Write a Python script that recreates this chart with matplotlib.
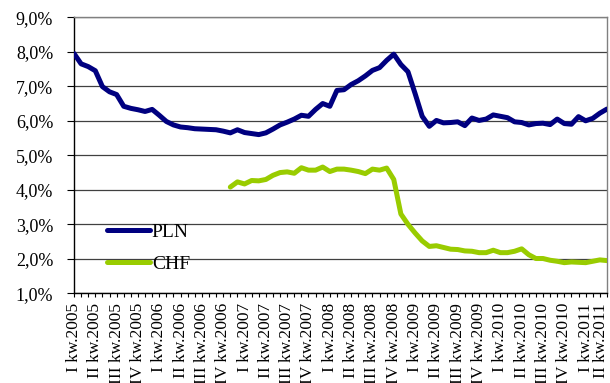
import numpy as np
import matplotlib
matplotlib.use('Agg')
import matplotlib.pyplot as plt
import matplotlib.transforms as mtransforms
from matplotlib.ticker import FuncFormatter

plt.rcParams['font.family'] = ['Liberation Serif', 'DejaVu Serif']

# monthly series, Jan 2005 - Apr 2011 (percent)
pln = [7.95, 7.65, 7.57, 7.45, 6.99, 6.84, 6.76, 6.42, 6.36, 6.32, 6.27, 6.33,
       6.16, 5.98, 5.88, 5.82, 5.80, 5.77, 5.76, 5.75, 5.74, 5.70, 5.65, 5.74,
       5.66, 5.63, 5.60, 5.65, 5.76, 5.88, 5.96, 6.05, 6.16, 6.13, 6.33, 6.50,
       6.42, 6.88, 6.90, 7.05, 7.16, 7.30, 7.46, 7.54, 7.75, 7.93, 7.63, 7.42,
       6.79, 6.13, 5.84, 6.01, 5.94, 5.95, 5.97, 5.86, 6.08, 6.01, 6.05, 6.17,
       6.13, 6.09, 5.97, 5.95, 5.88, 5.92, 5.93, 5.89, 6.05, 5.92, 5.90, 6.12,
       6.00, 6.07, 6.22, 6.34]
chf = [np.nan] * 22 + [
       4.08, 4.23, 4.17, 4.27, 4.26, 4.30, 4.42, 4.50, 4.52, 4.48, 4.64, 4.57,
       4.57, 4.66, 4.53, 4.60, 4.60, 4.57, 4.53, 4.47, 4.60, 4.57, 4.63, 4.30,
       3.30, 3.00, 2.75, 2.52, 2.36, 2.38, 2.33, 2.28, 2.27, 2.23, 2.22, 2.18,
       2.18, 2.25, 2.18, 2.18, 2.22, 2.29, 2.12, 2.01, 2.01, 1.96, 1.93, 1.89,
       1.91, 1.90, 1.89, 1.93, 1.97, 1.95]

years = range(2005, 2012)
quarters = ['I', 'II', 'III', 'IV']
q_labels = [f'{q} kw.{y}' for y in years for q in quarters][:26]

x = np.arange(len(pln))

fig = plt.figure(figsize=(6.1, 3.83), dpi=100)
ax = fig.add_axes([0.1213, 0.234, 0.8737, 0.721])

ax.plot(x, pln, color='#000080', lw=3.6, solid_capstyle='round',
        solid_joinstyle='round', label='PLN', zorder=3)
ax.plot(x, chf, color='#99CC00', lw=3.6, solid_capstyle='round',
        solid_joinstyle='round', label='CHF', zorder=3)

ax.set_xlim(0, len(pln) - 1)
ax.set_ylim(1, 9)
ax.set_yticks(np.arange(1, 9.5, 1))
ax.yaxis.set_major_formatter(FuncFormatter(lambda v, p: f'{v:.1f}%'.replace('.', ',')))
ax.grid(axis='y', color='#404040', lw=0.9)
ax.set_axisbelow(True)

ax.set_xticks(np.arange(0, len(pln), 3))
ax.set_xticklabels(q_labels, rotation=90, fontsize=12.5)
ax.set_xticks(x, minor=True)
ax.tick_params(axis='x', which='both', direction='out', length=3, width=0.8, pad=4)
ax.tick_params(axis='y', direction='out', length=5, width=0.8, pad=10, labelsize=13)

# nudge the last quarter label inside the figure edge
last = ax.get_xticklabels()[-1]
last.set_transform(last.get_transform() +
                   mtransforms.ScaledTranslation(-6 / 100, 0, fig.dpi_scale_trans))

for s in ['left', 'bottom']:
    ax.spines[s].set_color('black')
    ax.spines[s].set_linewidth(1.0)
for s in ['top', 'right']:
    ax.spines[s].set_color('#808080')
    ax.spines[s].set_linewidth(1.0)

ax.legend(loc='upper left', bbox_to_anchor=(0.062, 0.2536), frameon=False,
          fontsize=14, handlelength=2.2, handletextpad=0.1, labelspacing=0.75,
          borderpad=0, borderaxespad=0)

fig.savefig('out.png', dpi=100)
